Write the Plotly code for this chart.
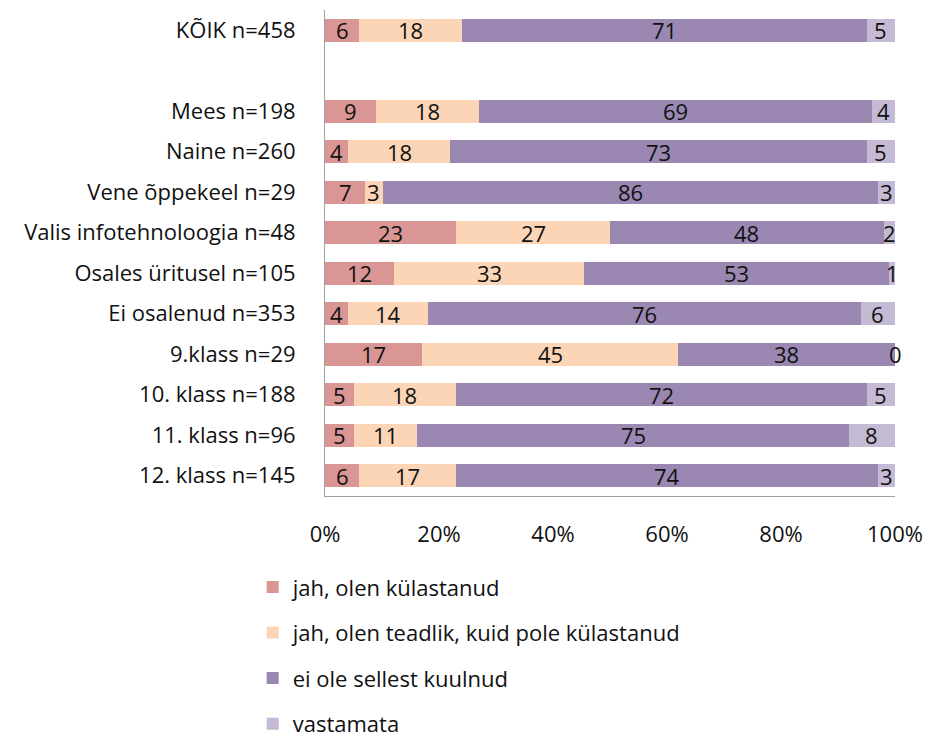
import numpy as np
import plotly.graph_objects as go

# Response groups (top to bottom); " " is a spacer row under the total
categories = [
    "KÕIK n=458", " ", "Mees n=198", "Naine n=260", "Vene õppekeel n=29",
    "Valis infotehnoloogia n=48", "Osales üritusel n=105", "Ei osalenud n=353",
    "9.klass n=29", "10. klass n=188", "11. klass n=96", "12. klass n=145",
]

series_names = [
    "jah, olen külastanud",
    "jah, olen teadlik, kuid pole külastanud",
    "ei ole sellest kuulnud",
    "vastamata",
]

visited = [6, None, 9, 4, 7, 23, 12, 4, 17, 5, 5, 6]
aware = [18, None, 18, 18, 3, 27, 33, 14, 45, 18, 11, 17]
not_heard = [71, None, 69, 73, 86, 48, 53, 76, 38, 72, 75, 74]
no_answer = [5, None, 4, 5, 3, 2, 1, 6, 0, 5, 8, 3]

colors = ["#D99694", "#FBD5B5", "#9A88B3", "#C4BAD4"]
series_values = [visited, aware, not_heard, no_answer]

FONT = "Open Sans"
FS = 22
TXT = "#111111"

fig = go.Figure()
for i, (name, vals, col) in enumerate(zip(series_names, series_values, colors)):
    fig.add_trace(go.Bar(
        y=categories, x=vals, name=name, orientation="h",
        marker=dict(color=col, line=dict(width=0)),
        legendgroup=f"g{i}",
    ))

# Value labels centred in each (normalised) segment
arr = np.array([[np.nan if v is None else v for v in s] for s in series_values], dtype=float)
totals = np.nansum(arr, axis=0)
annotations = []
for r, cat in enumerate(categories):
    if np.isnan(arr[0, r]):
        continue
    start = 0.0
    for s in range(arr.shape[0]):
        v = arr[s, r]
        share = v / totals[r] * 100
        annotations.append(dict(
            x=start + share / 2, y=cat, xref="x", yref="y",
            text=f"{int(v)}", showarrow=False,
            font=dict(family=FONT, size=FS, color=TXT),
        ))
        start += share

fig.update_layout(
    barmode="stack", barnorm="percent", bargap=0.43,
    width=929, height=741,
    margin=dict(l=325, r=34, t=10, b=245, autoexpand=False),
    paper_bgcolor="white", plot_bgcolor="white",
    font=dict(family=FONT, size=FS, color=TXT),
    annotations=annotations,
    showlegend=True,
    legend=dict(
        xref="container", yref="container",
        x=0.272, y=0.236, xanchor="left", yanchor="top",
        orientation="v", traceorder="grouped", tracegroupgap=14,
        font=dict(family=FONT, size=FS, color=TXT),
        itemwidth=30, bgcolor="rgba(0,0,0,0)",
    ),
)
fig.update_xaxes(
    range=[0, 100], tickvals=[0, 20, 40, 60, 80, 100],
    ticktext=["0%", "20%", "40%", "60%", "80%", "100%"],
    showgrid=False, zeroline=False, showline=True, linecolor="#A0A0A0",
    linewidth=1, ticks="", ticklabelstandoff=19,
    tickfont=dict(family=FONT, size=FS, color=TXT),
)
fig.update_yaxes(
    categoryorder="array", categoryarray=categories, autorange="reversed",
    showgrid=False, zeroline=False, showline=True, linecolor="#A0A0A0",
    linewidth=1, ticks="", ticklabelstandoff=24,
    tickfont=dict(family=FONT, size=FS, color=TXT),
)

fig.write_html("out.html")
